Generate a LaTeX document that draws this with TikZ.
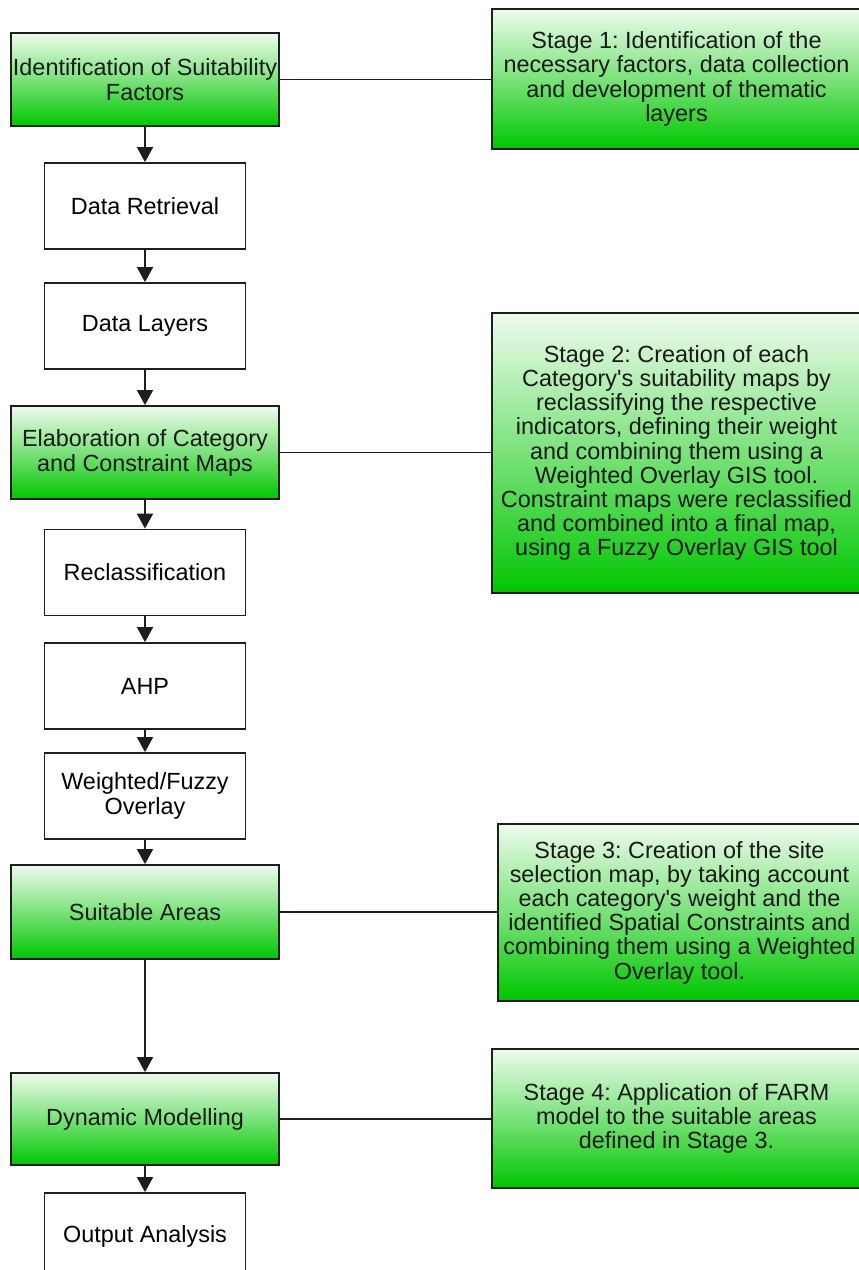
\documentclass[tikz,border=0pt]{standalone}
\usepackage{fontspec}
\setmainfont{Liberation Sans}[Ligatures=TeXOff]
\usepackage{xcolor}
\usetikzlibrary{arrows.meta}
\frenchspacing

\definecolor{gtop}{RGB}{238,251,238}
\definecolor{gmid}{RGB}{122,226,122}
\definecolor{gbot}{RGB}{0,198,0}
\definecolor{edge}{RGB}{30,30,30}

\tikzset{
	greenbox/.style={draw=edge, line width=1.8pt, top color=gtop, bottom color=gbot, middle color=gmid,
		minimum width=268pt, minimum height=93pt, inner sep=0pt, align=center, text=black!90,
		font=\fontsize{23.4pt}{25pt}\selectfont},
	whitebox/.style={draw=edge, line width=1.8pt, fill=white, minimum width=201pt, minimum height=86pt,
		inner sep=0pt, align=center, font=\fontsize{23.4pt}{25pt}\selectfont},
	stagebox/.style={greenbox, minimum width=369pt, font=\fontsize{23.4pt}{24.2pt}\selectfont},
	flow/.style={line width=1.8pt, draw=edge, -{Triangle[width=16pt,length=15pt]}},
	link/.style={line width=1.6pt, draw=edge},
}

\begin{document}
\begin{tikzpicture}[x=1pt,y=-1pt]
	\useasboundingbox (0,0) rectangle (859,1270);
	\clip (0,0) rectangle (859,1270);
	\fill[white] (0,0) rectangle (859,1270);

	% left column
	\node[greenbox] (ident) at (145,79.5) {Identification of Suitability\\Factors};
	\node[whitebox] (retr) at (145,206) {Data Retrieval};
	\node[whitebox] (layers) at (145,326) {Data Layers};
	\node[greenbox] (elab) at (145,452.5) {Elaboration of Category\\and Constraint Maps};
	\node[whitebox] (reclass) at (145,572.5) {Reclassification};
	\node[whitebox] (ahp) at (145,686) {AHP};
	\node[whitebox] (overlay) at (145,796) {Weighted/Fuzzy\\Overlay};
	\node[greenbox, minimum height=94pt] (suit) at (145,912) {Suitable Areas};
	\node[greenbox, minimum height=92pt] (dyn) at (145,1119) {Dynamic Modelling};
	\node[whitebox] (out) at (145,1236) {Output Analysis};

	% stages
	\node[stagebox, minimum height=140pt] (s1) at (676.5,79) {Stage 1: Identification of the\\necessary factors, data collection\\and development of thematic\\layers};
	\node[stagebox, minimum height=280pt] (s2) at (676.5,453) {Stage 2: Creation of each\\Category's suitability maps by\\reclassifying the respective\\indicators, defining their weight\\and combining them using a\\Weighted Overlay GIS tool.\\Constraint maps were reclassified\\and combined into a final map,\\using a Fuzzy Overlay GIS tool};
	\node[stagebox, minimum width=363pt, minimum height=177pt] (s3) at (679.5,912.5) {Stage 3: Creation of the site\\selection map, by taking account\\each category's weight and the\\identified Spatial Constraints and\\combining them using a Weighted\\Overlay tool.};
	\node[stagebox, minimum height=139pt] (s4) at (676.5,1118.5) {Stage 4: Application of FARM\\model to the suitable areas\\defined in Stage 3.};

	% arrows
	\draw[flow] (ident) -- (retr);
	\draw[flow] (retr) -- (layers);
	\draw[flow] (layers) -- (elab);
	\draw[flow] (elab) -- (reclass);
	\draw[flow] (reclass) -- (ahp);
	\draw[flow] (ahp) -- (overlay);
	\draw[flow] (overlay) -- (suit);
	\draw[flow] (suit) -- (dyn);
	\draw[flow] (dyn) -- (out);

	% links to stages
	\draw[link] (ident.east) -- (ident.east -| s1.west);
	\draw[link] (elab.east) -- (elab.east -| s2.west);
	\draw[link] (suit.east) -- (suit.east -| s3.west);
	\draw[link] (dyn.east) -- (dyn.east -| s4.west);
\end{tikzpicture}
\end{document}
